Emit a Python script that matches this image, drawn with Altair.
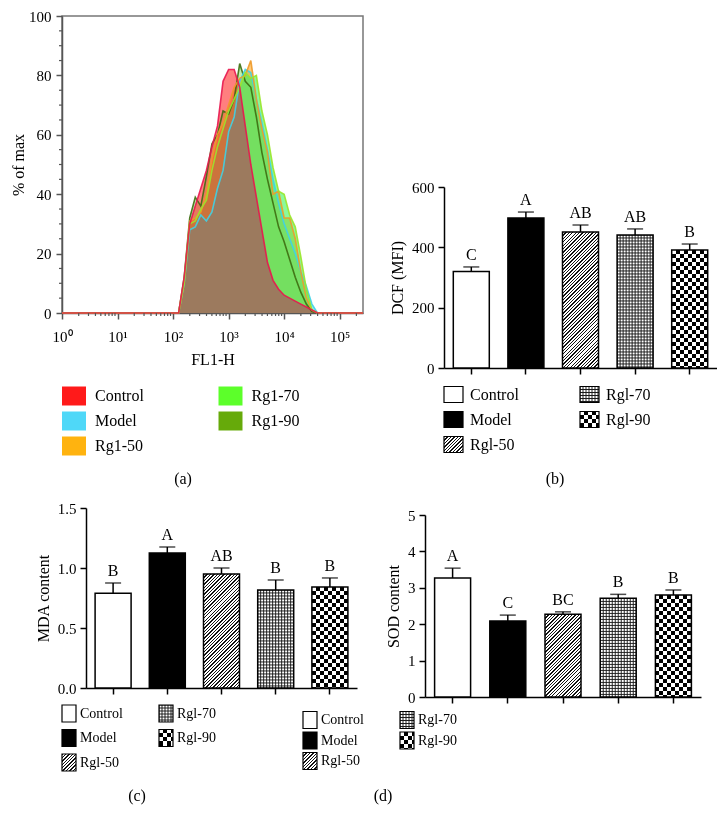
import math
import altair as alt
import pandas as pd

FONT = "Liberation Serif"

# ---------------- panel (a): flow cytometry histogram ----------------
hist_groups = ["Control", "Model", "Rg1-50", "Rg1-70", "Rg1-90"]
hist_fill = ["#FF1A1A", "#4FD8F8", "#FFB30F", "#5CFF2A", "#66AA0A"]
hist_area = ["#FF2A2A", "#40E0F0", "#FFA520", "#3CF55A", "#9AE27A"]
hist_line = ["#E8174F", "#3FD2E6", "#EE9A2A", "#9AE62A", "#3D6E10"]
draw_order = ["Rg1-90", "Model", "Rg1-50", "Rg1-70", "Control"]
# log10(FL1-H) positions
log_fl = [0.0, 2.1, 2.2, 2.3, 2.4, 2.5, 2.6, 2.7, 2.8, 2.9, 3.0, 3.1, 3.2, 3.3,
          3.4, 3.5, 3.6, 3.7, 3.8, 3.9, 4.0, 4.1, 4.2, 4.3, 4.4, 4.5, 4.6, 4.7, 5.42]
pct_control = [0, 0, 12, 30, 36, 42, 48, 56, 63, 78, 82, 82, 76, 63, 50, 39, 28, 17,
               11, 8, 6, 5, 4, 3, 2, 1, 0, 0, 0]
pct_model = [0, 0, 10, 28, 29, 33, 31, 34, 42, 48, 61, 66, 78, 82, 81, 72, 64, 55,
             45, 37, 30, 25, 20, 14, 9, 3, 0, 0, 0]
pct_rg50 = [0, 0, 11, 31, 32, 34, 40, 52, 60, 64, 70, 76, 79, 80, 85, 72, 62, 54,
            40, 41, 32, 32, 25, 14, 5, 1, 0, 0, 0]
pct_rg70 = [0, 0, 10, 30, 31, 35, 38, 48, 56, 62, 68, 72, 76, 81, 79, 80, 68, 60,
            49, 41, 40, 33, 29, 19, 8, 1, 0, 0, 0]
pct_rg90 = [0, 0, 12, 32, 39, 36, 46, 57, 60, 68, 67, 72, 84, 78, 76, 66, 54, 45,
            37, 29, 24, 18, 12, 7, 3, 0.5, 0, 0, 0]
hist_series = [pct_control, pct_model, pct_rg50, pct_rg70, pct_rg90]
x_major = [0, 1, 2, 3, 4, 5]
x_labels = ["10⁰", "10¹", "10²", "10³", "10⁴", "10⁵"]
y_major = [0, 20, 40, 60, 80, 100]

# ---------------- panels (b)-(d): bar charts ----------------
bar_groups = ["Control", "Model", "Rgl-50", "Rgl-70", "Rgl-90"]
dcf_mean = [320, 497, 451, 441, 391]
dcf_err = [15, 20, 23, 20, 20]
dcf_letters = ["C", "A", "AB", "AB", "B"]
mda_mean = [0.79, 1.125, 0.95, 0.817, 0.842]
mda_err = [0.085, 0.05, 0.05, 0.083, 0.075]
mda_letters = ["B", "A", "AB", "B", "B"]
sod_mean = [3.27, 2.09, 2.27, 2.71, 2.80]
sod_err = [0.27, 0.16, 0.07, 0.11, 0.14]
sod_letters = ["A", "C", "BC", "B", "B"]

# ---------------- styles ----------------
BW = 36
BROWN = "#9A7A60"
kinds = ["white", "black", "hatch", "grid", "checker"]
CLEAR = "rgba(0,0,0,0)"
AW, AH = 301, 297


def stripe_stops(n, duty, on, off):
    out = []
    i = 0
    while i < n:
        a = i / n
        b = min((i + duty) / n, 1.0)
        c = min((i + 1) / n, 1.0)
        out += [alt.GradientStop(offset=a, color=on), alt.GradientStop(offset=b, color=on),
                alt.GradientStop(offset=b, color=off), alt.GradientStop(offset=c, color=off)]
        i += 1
    return out


def soft_stops(n, on, off):
    out = []
    i = 0
    while i < n:
        a = i / n
        b = min((i + 0.3) / n, 1.0)
        c = min((i + 0.7) / n, 1.0)
        out += [alt.GradientStop(offset=a, color=on), alt.GradientStop(offset=b, color=off),
                alt.GradientStop(offset=c, color=off)]
        i += 1
    out.append(alt.GradientStop(offset=1.0, color=on))
    return out


def lin_grad(x2, y2, stops):
    return alt.LinearGradient(gradient="linear", x1=0, y1=0, x2=x2, y2=y2, stops=stops)


def pattern_fills(kind, W, H):
    if kind == "hatch":
        r = H / W
        k = (1 + r) / (1 + r * r)
        n = (W + H) / math.sqrt(2) / 2.4
        return [(lin_grad(k, k * r, stripe_stops(n, 0.4, "#111111", "#ffffff")), None)]
    if kind == "grid":
        return [(lin_grad(1, 0, soft_stops(W / 3.0, "#1a1a1a", CLEAR)), None),
                (lin_grad(0, 1, soft_stops(H / 3.0, "#1a1a1a", CLEAR)), None)]
    if kind == "checker":
        return [(lin_grad(1, 0, stripe_stops(W / 8.0, 0.5, "#000000", "#ffffff")), None),
                (lin_grad(0, 1, stripe_stops(H / 8.0, 0.5, "#ffffff", "#000000")), "difference")]
    return []


def base_color(kind):
    return "#000000" if kind == "black" else "#ffffff"


def spacer(w, h):
    return alt.Chart(pd.DataFrame({"v": [0]})).mark_point(opacity=0, size=1).encode(
        x=alt.X("v:Q", axis=None, scale=alt.Scale(domain=[-1, 1])),
        y=alt.Y("v:Q", axis=None, scale=alt.Scale(domain=[-1, 1]))).properties(width=w, height=h)


# ---------------- panel (a) ----------------
rows = []
for name, vals in zip(hist_groups, hist_series):
    for L, p in zip(log_fl, vals):
        rows.append({"L": L, "pct": p, "series": name})
hist_df = pd.DataFrame(rows)

x_minor = [round(k + math.log10(m), 4) for k in range(6) for m in range(2, 10)
           if k + math.log10(m) <= 5.42]
y_minor = [v for v in range(5, 100, 5) if v % 20]

lab_expr = " : ".join(f"datum.value == {v} ? '{t}'" for v, t in zip(x_major, x_labels)) + " : ''"
scx_a = alt.Scale(domain=[0, 5.42], nice=False, zero=False)
scy_a = alt.Scale(domain=[0, 100], nice=False)
axx_a = alt.Axis(values=x_major, title="FL1-H", labelOverlap=False, labelFlush=False,
                 labelExpr=lab_expr, tickSize=6, domainColor="#555555", tickColor="#555555",
                 labelPadding=10, titlePadding=7)
axy_a = alt.Axis(values=y_major, title="% of max", labelOverlap=False, tickSize=6,
                 domainColor="#555555", tickColor="#555555", labelPadding=5, titlePadding=2)


def XA(f):
    return alt.X(f, scale=scx_a, axis=axx_a)


def YA(f):
    return alt.Y(f, scale=scy_a, axis=axy_a, stack=None)


a_layers = []
for name in draw_order:
    col = hist_area[hist_groups.index(name)]
    a_layers.append(alt.Chart(hist_df).transform_filter(alt.datum.series == name)
                    .mark_area(color=col, opacity=0.6).encode(x=XA("L:Q"), y=YA("pct:Q")))
a_layers.append(alt.Chart(hist_df).transform_aggregate(low="min(pct)", groupby=["L"])
                .mark_area(color=BROWN, opacity=0.95).encode(x=XA("L:Q"), y=YA("low:Q")))
for name in draw_order:
    col = hist_line[hist_groups.index(name)]
    a_layers.append(alt.Chart(hist_df).transform_filter(alt.datum.series == name)
                    .mark_line(color=col, strokeWidth=1.6, opacity=0.9)
                    .encode(x=XA("L:Q"), y=YA("pct:Q")))
a_layers.append(alt.Chart(pd.DataFrame({"v": x_minor})).mark_rule(color="#555555", strokeWidth=1.2)
                .encode(x=XA("v:Q"), y=alt.value(AH), y2=alt.value(AH + 3)))
a_layers.append(alt.Chart(pd.DataFrame({"v": y_minor})).mark_rule(color="#555555", strokeWidth=1.2)
                .encode(y=YA("v:Q"), x=alt.value(0), x2=alt.value(-3)))
panel_a = alt.layer(*a_layers).properties(
    width=AW, height=AH, view=alt.ViewBackground(stroke="#777777", strokeWidth=1.5))


# ---------------- bar panels ----------------
def bar_panel(vals, errs, lets, ymax, yticks, fmt, ytitle, w, h):
    df = pd.DataFrame({"group": bar_groups, "mean": vals, "err": errs, "letter": lets})
    scx = alt.Scale(domain=bar_groups, paddingInner=0, paddingOuter=0)
    axx = alt.Axis(labels=False, title=None, tickSize=6)
    scy = alt.Scale(domain=[0, ymax], nice=False)
    axy = alt.Axis(values=yticks, format=fmt, title=ytitle, tickSize=6,
                   labelOverlap=False, labelPadding=4, titlePadding=6)
    X = alt.X("group:N", scale=scx, axis=axx)

    def Y(f):
        return alt.Y(f, scale=scy, axis=axy)

    base = alt.Chart(df)
    layers = [base.mark_bar(width=BW).encode(
        x=X, y=Y("mean:Q"),
        fill=alt.Fill("group:N", scale=alt.Scale(domain=bar_groups,
                                                 range=[base_color(k) for k in kinds]),
                      legend=None))]
    for i, g in enumerate(bar_groups):
        H = vals[i] / ymax * h
        for fill, blend in pattern_fills(kinds[i], BW, H):
            kw = dict(width=BW, fill=fill)
            if blend:
                kw["blend"] = blend
            layers.append(base.transform_filter(alt.datum.group == g).mark_bar(**kw)
                          .encode(x=X, y=Y("mean:Q")))
    layers.append(base.mark_bar(width=BW, fill="#ffffff", fillOpacity=0, stroke="#000000",
                                strokeWidth=1.5).encode(x=X, y=Y("mean:Q")))
    eb = base.transform_calculate(top="datum.mean + datum.err")
    layers.append(eb.mark_rule(color="#000000", strokeWidth=1.5)
                  .encode(x=X, y=Y("mean:Q"), y2="top:Q"))
    layers.append(eb.mark_tick(color="#000000", size=16, thickness=1.5)
                  .encode(x=X, y=Y("top:Q")))
    layers.append(eb.mark_text(baseline="bottom", dy=-4, fontSize=16, font=FONT, color="#000000")
                  .encode(x=X, y=Y("top:Q"), text="letter:N"))
    return alt.layer(*layers).properties(width=w, height=h)


panel_b = bar_panel(dcf_mean, dcf_err, dcf_letters, 600, [0, 200, 400, 600], "d",
                    "DCF (MFI)", 273, 181)
panel_c = bar_panel(mda_mean, mda_err, mda_letters, 1.5, [0, 0.5, 1.0, 1.5], ".1f",
                    "MDA content", 271, 180)
panel_d = bar_panel(sod_mean, sod_err, sod_letters, 5, [0, 1, 2, 3, 4, 5], "d",
                    "SOD content", 276, 182)


# ---------------- legends ----------------
def legend(labels, swatches, patterned, sw_w, sw_h, x0, dxcol, y0, dy, text_dx, fs,
           width, height, label, label_dx, label_off):
    df = pd.DataFrame({"label": labels,
                       "col": [i // 3 for i in range(len(labels))],
                       "row": [i % 3 for i in range(len(labels))]})
    X = alt.X("col:Q", scale=alt.Scale(domain=[0, 1], range=[x0, x0 + dxcol]), axis=None)
    Y = alt.Y("row:Q", scale=alt.Scale(domain=[0, 2], range=[y0, y0 + 2 * dy]), axis=None)
    a = sw_h / sw_w
    shape = f"M-1,-{a:.4f} L1,-{a:.4f} L1,{a:.4f} L-1,{a:.4f} Z"
    size = sw_w * sw_w
    layers = []
    for i, lab in enumerate(labels):
        sub = alt.Chart(df).transform_filter(alt.datum.label == lab)
        if patterned:
            kind = swatches[i]
            layers.append(sub.mark_point(shape=shape, size=size, filled=True, opacity=1,
                                         fill=base_color(kind)).encode(x=X, y=Y))
            for fill, blend in pattern_fills(kind, sw_w, sw_h):
                kw = dict(shape=shape, size=size, filled=True, opacity=1, fill=fill)
                if blend:
                    kw["blend"] = blend
                layers.append(sub.mark_point(**kw).encode(x=X, y=Y))
            layers.append(sub.mark_point(shape=shape, size=size, filled=False, opacity=1,
                                         stroke="#000000", strokeWidth=1.2).encode(x=X, y=Y))
        else:
            layers.append(sub.mark_point(shape=shape, size=size, filled=True, opacity=1,
                                         fill=swatches[i]).encode(x=X, y=Y))
    layers.append(alt.Chart(df).mark_text(align="left", baseline="middle", dx=text_dx,
                                          fontSize=fs, font=FONT, color="#000000")
                  .encode(x=X, y=Y, text="label:N"))
    return alt.layer(*layers).properties(
        width=width, height=height,
        title=alt.TitleParams(label, orient="bottom", fontSize=16, font=FONT,
                              fontWeight="normal", dx=label_dx, offset=label_off))


leg_a = legend(hist_groups, hist_fill, False, 24, 19, 66, 156.5, 20, 25, 21, 16,
               342, 85, "(a)", 4, 9.5)
leg_b = legend(bar_groups, kinds, True, 19, 16, 103.5, 136, 18.5, 25, 16.5, 16,
               340, 85, "(b)", 35, 9.5)
leg_c = legend(bar_groups, kinds, True, 14, 17, 61, 97, 8.5, 24.5, 11, 14,
               250, 74, "(c)", 4, 9)
leg_d = legend(bar_groups, kinds, True, 14, 17, 42, 97, 15, 20.5, 11, 14,
               222, 74, "(d)", 4, 9)

row1 = alt.hconcat(
    spacer(1, 1),
    alt.hconcat(panel_a, alt.vconcat(spacer(1, 164), panel_b, spacing=0), spacing=22),
    spacing=0)
row2 = alt.hconcat(leg_a, leg_b, spacing=0)
row3 = alt.hconcat(
    spacer(1, 1),
    alt.hconcat(alt.vconcat(spacer(1, 13.5), panel_c, spacing=0),
                alt.vconcat(spacer(1, 20.5), panel_d, spacing=0), spacing=28),
    spacing=26)
row4 = alt.hconcat(leg_c, leg_d, spacing=10)

top3 = alt.vconcat(row1, row2, row3, spacing=0)
chart = alt.vconcat(top3, row4, spacing=-10.5).properties(
    padding={"left": 0, "top": 0, "right": 0, "bottom": 4}
).configure(font=FONT).configure_view(strokeWidth=0).configure_axis(
    labelFont=FONT, titleFont=FONT, labelFontSize=15, titleFontSize=16,
    titleFontWeight="normal", labelColor="#000000", titleColor="#000000",
    domainColor="#000000", tickColor="#000000", grid=False, domainWidth=1.5, tickWidth=1.5
).configure_title(font=FONT, fontWeight="normal", color="#000000")

chart.save("out.html", embed_options={"renderer": "svg", "actions": False})
